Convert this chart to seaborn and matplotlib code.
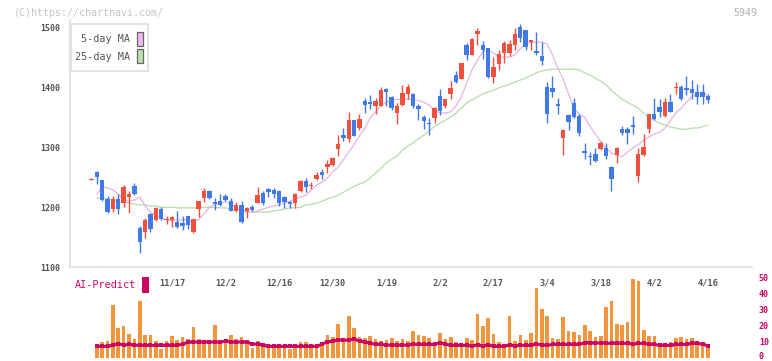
import numpy as np
import pandas as pd
import matplotlib
matplotlib.use("Agg")
import matplotlib.pyplot as plt
import matplotlib.transforms as mtransforms
import seaborn as sns
from matplotlib.patches import Rectangle

sns.set_style("white")
plt.rcParams['font.family'] = ['DejaVu Sans Mono']

# daily candles, oldest first (index 0 .. 115)
opens = [1245, 1259, 1245, 1214, 1197, 1214, 1207, 1217, 1235, 1165,
         1159, 1189, 1179, 1197, 1179, 1179, 1175, 1174, 1185, 1159,
         1197, 1215, 1227, 1209, 1210, 1219, 1210, 1194, 1204, 1193,
         1200, 1207, 1224, 1230, 1229, 1227, 1217, 1209, 1207, 1227,
         1244, 1235, 1247, 1259, 1267, 1270, 1297, 1320, 1314, 1345,
         1332, 1377, 1375, 1369, 1369, 1397, 1384, 1357, 1371, 1389,
         1389, 1368, 1351, 1341, 1348, 1385, 1369, 1388, 1420, 1414,
         1470, 1454, 1489, 1470, 1465, 1417, 1439, 1457, 1457, 1470,
         1500, 1495, 1475, 1460, 1452, 1400, 1399, 1372, 1315, 1354,
         1374, 1352, 1294, 1286, 1289, 1297, 1299, 1267, 1287, 1330,
         1330, 1337, 1252, 1287, 1330, 1355, 1367, 1352, 1375, 1399,
         1400, 1399, 1397, 1392, 1392, 1385]
highs = [1248, 1260, 1246, 1219, 1219, 1222, 1237, 1227, 1240, 1169,
         1182, 1190, 1200, 1200, 1185, 1185, 1194, 1185, 1186, 1181,
         1211, 1232, 1229, 1215, 1222, 1222, 1215, 1209, 1210, 1200,
         1204, 1234, 1227, 1232, 1232, 1229, 1219, 1210, 1223, 1245,
         1249, 1242, 1259, 1264, 1279, 1283, 1320, 1332, 1359, 1346,
         1355, 1382, 1387, 1382, 1400, 1399, 1385, 1374, 1404, 1405,
         1390, 1372, 1354, 1348, 1367, 1397, 1381, 1410, 1427, 1441,
         1474, 1482, 1499, 1477, 1466, 1450, 1462, 1477, 1479, 1499,
         1505, 1496, 1479, 1492, 1475, 1409, 1419, 1382, 1330, 1355,
         1382, 1355, 1307, 1292, 1299, 1310, 1307, 1268, 1300, 1335,
         1334, 1352, 1299, 1322, 1356, 1382, 1380, 1382, 1389, 1409,
         1404, 1419, 1412, 1405, 1405, 1389]
lows = [1245, 1239, 1211, 1191, 1192, 1189, 1200, 1190, 1221, 1124,
        1149, 1159, 1177, 1179, 1172, 1167, 1165, 1162, 1164, 1157,
        1184, 1209, 1214, 1195, 1202, 1210, 1193, 1192, 1174, 1182,
        1193, 1207, 1204, 1217, 1215, 1202, 1198, 1198, 1198, 1226,
        1225, 1230, 1245, 1247, 1257, 1269, 1285, 1310, 1309, 1318,
        1329, 1357, 1364, 1355, 1368, 1369, 1362, 1339, 1369, 1380,
        1365, 1346, 1331, 1321, 1341, 1354, 1366, 1381, 1407, 1414,
        1445, 1453, 1470, 1447, 1416, 1407, 1429, 1440, 1452, 1462,
        1475, 1462, 1462, 1454, 1437, 1340, 1384, 1355, 1287, 1329,
        1349, 1319, 1280, 1270, 1276, 1295, 1280, 1227, 1274, 1320,
        1305, 1322, 1242, 1286, 1324, 1346, 1350, 1351, 1358, 1389,
        1379, 1387, 1380, 1372, 1372, 1374]
closes = [1247, 1250, 1212, 1192, 1214, 1197, 1234, 1222, 1222, 1142,
          1179, 1164, 1199, 1180, 1180, 1184, 1167, 1169, 1170, 1180,
          1210, 1227, 1215, 1205, 1204, 1212, 1194, 1204, 1175, 1198,
          1195, 1220, 1207, 1226, 1222, 1207, 1209, 1205, 1222, 1244,
          1234, 1237, 1254, 1254, 1272, 1282, 1305, 1315, 1345, 1319,
          1347, 1371, 1372, 1377, 1395, 1392, 1365, 1369, 1390, 1400,
          1368, 1363, 1343, 1339, 1366, 1361, 1380, 1399, 1409, 1440,
          1454, 1480, 1494, 1462, 1417, 1434, 1455, 1474, 1472, 1489,
          1482, 1467, 1478, 1457, 1444, 1355, 1392, 1369, 1329, 1342,
          1350, 1324, 1290, 1284, 1277, 1307, 1285, 1247, 1299, 1323,
          1324, 1334, 1289, 1300, 1355, 1347, 1359, 1375, 1359, 1401,
          1380, 1395, 1390, 1384, 1384, 1379]

# moving averages as drawn (index 1 .. 115)
ma5 = [1222, 1234, 1232, 1229, 1222, 1212, 1210, 1212, 1217,
       1202, 1192, 1187, 1182, 1179, 1177, 1179, 1179, 1179, 1175,
       1180, 1189, 1200, 1204, 1207, 1209, 1205, 1199, 1195, 1192,
       1192, 1194, 1197, 1200, 1202, 1204, 1207, 1210, 1214, 1217,
       1220, 1229, 1237, 1242, 1249, 1259, 1267, 1279, 1292, 1305,
       1319, 1332, 1349, 1359, 1369, 1375, 1379, 1380, 1380, 1380,
       1379, 1378, 1375, 1370, 1362, 1357, 1357, 1359, 1369, 1384,
       1407, 1429, 1445, 1459, 1462, 1457, 1450, 1450, 1450, 1454,
       1464, 1472, 1475, 1475, 1475, 1472, 1454, 1432, 1414, 1389,
       1365, 1355, 1350, 1335, 1322, 1309, 1299, 1290, 1287, 1284,
       1292, 1299, 1304, 1312, 1317, 1322, 1325, 1332, 1344, 1357,
       1365, 1375, 1384, 1389, 1389, 1387]
ma25 = [1215, 1215, 1214, 1212, 1210, 1209, 1207, 1205, 1204,
        1204, 1202, 1202, 1200, 1200, 1200, 1199, 1199, 1199, 1199,
        1199, 1200, 1200, 1200, 1199, 1199, 1197, 1195, 1195, 1194,
        1192, 1192, 1192, 1192, 1194, 1195, 1197, 1199, 1199, 1200,
        1204, 1205, 1207, 1210, 1214, 1217, 1220, 1225, 1230, 1235,
        1239, 1242, 1249, 1257, 1265, 1274, 1280, 1285, 1295, 1302,
        1307, 1314, 1320, 1327, 1335, 1340, 1345, 1350, 1357, 1365,
        1374, 1379, 1384, 1389, 1392, 1395, 1399, 1402, 1405, 1409,
        1412, 1415, 1420, 1424, 1427, 1429, 1430, 1430, 1430, 1430,
        1430, 1429, 1424, 1420, 1415, 1410, 1404, 1395, 1387, 1380,
        1375, 1370, 1365, 1357, 1350, 1345, 1340, 1337, 1334, 1332,
        1330, 1330, 1332, 1332, 1334, 1337]

# AI-Predict (index 1 .. 115)
ai_bars = [8.3, 10.0, 10.4, 33.0, 18.5, 19.8, 14.8, 11.7, 35.4, 14.2,
           14.2, 10.4, 5.4, 10.4, 13.5, 11.0, 12.9, 11.7, 19.2, 11.7,
           11.0, 10.4, 20.4, 10.4, 11.7, 14.2, 11.7, 12.9, 9.8, 6.0,
           10.4, 9.2, 7.9, 7.3, 6.7, 7.3, 5.4, 6.7, 9.8, 9.8,
           6.0, 6.0, 8.5, 14.2, 12.9, 21.0, 12.3, 26.0, 18.5, 12.9,
           12.3, 13.5, 11.7, 10.4, 11.0, 12.3, 10.4, 11.7, 10.4, 16.7,
           14.2, 13.5, 12.3, 7.7, 15.4, 11.7, 12.9, 9.8, 9.2, 12.3,
           11.0, 27.3, 19.8, 24.8, 14.8, 9.8, 7.3, 26.0, 10.4, 14.2,
           11.0, 15.4, 43.5, 30.4, 26.0, 12.3, 11.7, 25.4, 16.7, 16.0,
           14.2, 20.4, 16.7, 12.9, 13.5, 31.7, 35.4, 21.0, 20.4, 22.3,
           49.2, 47.9, 17.3, 13.5, 13.5, 7.3, 7.3, 9.8, 12.3, 12.9,
           11.7, 12.3, 10.4, 7.3, 7.3]
ai_line = [7.1, 7.1, 7.1, 7.9, 8.8, 7.9, 8.3, 7.9, 7.7, 7.7,
           7.7, 7.7, 7.7, 7.7, 7.7, 7.7, 8.5, 9.8, 9.8, 9.8,
           9.8, 9.8, 9.8, 9.8, 10.4, 9.8, 9.8, 9.8, 9.8, 8.5,
           8.5, 7.9, 7.1, 7.1, 7.1, 7.1, 7.1, 7.1, 7.1, 7.1,
           7.1, 7.1, 8.5, 9.8, 10.4, 11.0, 11.0, 11.0, 11.7, 10.4,
           9.8, 9.0, 8.3, 8.3, 7.9, 7.9, 7.9, 7.9, 7.9, 8.5,
           8.3, 8.3, 8.3, 8.3, 9.4, 8.5, 7.7, 7.7, 7.7, 7.7,
           7.3, 8.1, 7.3, 8.1, 7.1, 7.1, 7.1, 8.1, 7.3, 7.7,
           7.7, 7.7, 8.5, 8.1, 7.7, 8.3, 8.3, 8.3, 8.3, 8.3,
           8.3, 9.4, 9.4, 9.0, 9.4, 9.0, 9.0, 9.0, 9.0, 9.0,
           8.3, 9.0, 9.0, 8.3, 8.3, 7.7, 7.7, 7.7, 8.3, 8.3,
           8.3, 9.0, 9.0, 8.3, 7.5]

date_labels = ['11/17', '12/2', '12/16', '12/30', '1/19', '2/2',
               '2/17', '3/4', '3/18', '4/2', '4/16']
date_index = [15, 25, 35, 45, 55, 65, 75, 85, 95, 105, 115]
price_ticks = [1100, 1200, 1300, 1400, 1500]
ai_ticks = [0, 10, 20, 30, 40, 50]
grid_ticks = [7.74, 19.12, 30.69, 42.44, 53.82, 65.58, 76.96, 88.53,
              100.09, 111.66, 123.23]

UP = '#f0503c'
DOWN = '#3f7ae8'
PINK = '#e6b2e6'
GREEN = '#b6dcaa'
ORANGE = '#f2963e'
CRIMSON = '#cc0660'
AXIS = '#dddddd'
TXT = '#555555'

n = len(opens)
days = np.arange(n)
o = np.array(opens, float)
c = np.array(closes, float)
up = c >= o

W, H = 772, 361
fig = plt.figure(figsize=(W / 100, H / 100), dpi=100)

def fx(px):
    return px / W

def fy(py):
    return 1 - py / H

XL = (-4.01, 123.2)

# price panel
ax = fig.add_axes([fx(70), fy(267.3), fx(752) - fx(70), fy(20) - fy(267.3)])
colors = [UP if u else DOWN for u in up]
ax.vlines(days, lows, highs, colors=colors, lw=1.0, zorder=2)
body_lo = np.minimum(o, c)
body_h = np.maximum(np.abs(c - o), 1.8)
ax.bar(days, body_h, bottom=body_lo, width=0.82, color=colors, linewidth=0, zorder=3)

ma = pd.DataFrame({'day': days[1:], 'ma5': ma5, 'ma25': ma25})
sns.lineplot(data=ma, x='day', y='ma25', ax=ax, color=GREEN, lw=0.9, zorder=1)
sns.lineplot(data=ma, x='day', y='ma5', ax=ax, color=PINK, lw=0.9, zorder=1)

ax.set_xlim(*XL)
ax.set_ylim(1100, 1512)
ax.set_xlabel('')
ax.set_ylabel('')
for s in ['top', 'right']:
    ax.spines[s].set_visible(False)
for s in ['left', 'bottom']:
    ax.spines[s].set_color(AXIS)
    ax.spines[s].set_linewidth(1.2)
ax.set_yticks(price_ticks)
ax.set_yticklabels([str(t) for t in price_ticks])
ax.tick_params(axis='y', direction='inout', length=6, width=1, color=AXIS,
               labelsize=6, labelcolor=TXT, pad=4)
for t in ax.get_yticklabels():
    t.set_fontweight('bold')
ax.set_xticks(grid_ticks)
ax.set_xticklabels([''] * len(grid_ticks))
ax.tick_params(axis='x', which='major', direction='inout', length=6, width=1, color=AXIS)
ax.set_xticks(date_index, minor=True)
ax.set_xticklabels(date_labels, minor=True)
ax.tick_params(axis='x', which='minor', length=0, labelsize=6.2, labelcolor=TXT, pad=8)
for t in ax.get_xticklabels(minor=True):
    t.set_fontweight('bold')

# legend box
fig.patches.append(Rectangle((fx(70.5), fy(71)), fx(148) - fx(70.5), fy(24) - fy(71),
                             transform=fig.transFigure, facecolor='white',
                             edgecolor=AXIS, lw=1.2, zorder=5))
fig.text(fx(130), fy(39), '5-day MA', ha='right', va='center', fontsize=7.3,
         color=TXT, zorder=6)
fig.text(fx(130), fy(57), '25-day MA', ha='right', va='center', fontsize=7.3,
         color=TXT, zorder=6)
fig.patches.append(Rectangle((fx(136.5), fy(46)), fx(6), fy(0) - fy(14.5),
                             transform=fig.transFigure, facecolor='#f0b8f0',
                             edgecolor='#666666', lw=0.9, zorder=6))
fig.patches.append(Rectangle((fx(136.5), fy(63)), fx(6), fy(0) - fy(14.5),
                             transform=fig.transFigure, facecolor='#bde0b0',
                             edgecolor='#666666', lw=0.9, zorder=6))

# AI-Predict panel
bx = fig.add_axes([fx(70), fy(357.7), fx(752) - fx(70), fy(277.7) - fy(357.7)])
ai = pd.DataFrame({'day': days[1:], 'score': ai_bars, 'line': ai_line})
sns.barplot(data=ai, x='day', y='score', ax=bx, native_scale=True, color=ORANGE,
            saturation=1, width=0.68, errorbar=None, linewidth=0)
sns.lineplot(data=ai, x='day', y='line', ax=bx, color=CRIMSON, lw=2.2,
             marker='s', markersize=2.6, markeredgewidth=0)
bx.set_xlim(*XL)
bx.set_ylim(0, 50)
bx.set_xlabel('')
bx.set_ylabel('')
bx.patch.set_alpha(0)
for s in bx.spines.values():
    s.set_visible(False)
bx.set_xticks([])
bx.yaxis.tick_right()
bx.set_yticks(ai_ticks)
bx.set_yticklabels([str(t) for t in ai_ticks])
bx.tick_params(axis='y', length=0, labelsize=6, labelcolor=CRIMSON, pad=5)
lift = mtransforms.ScaledTranslation(0, 2.5 / 100, fig.dpi_scale_trans)
for t in bx.get_yticklabels():
    t.set_fontweight('bold')
    if t.get_text() == '0':
        t.set_transform(t.get_transform() + lift)

fig.text(fx(75), fy(285), 'AI-Predict', ha='left', va='center', fontsize=7.3,
         color=CRIMSON)
fig.patches.append(Rectangle((fx(142), fy(293)), fx(7), fy(0) - fy(16),
                             transform=fig.transFigure, facecolor=CRIMSON,
                             edgecolor='none'))

fig.text(fx(14), fy(12.5), '(C)https://chartnavi.com/', ha='left', va='center',
         fontsize=7.2, color='#c4c4c4')
fig.text(fx(757), fy(12.5), '5949', ha='right', va='center', fontsize=7.2,
         color='#b4b4b4')

fig.savefig('out.png', dpi=100)
